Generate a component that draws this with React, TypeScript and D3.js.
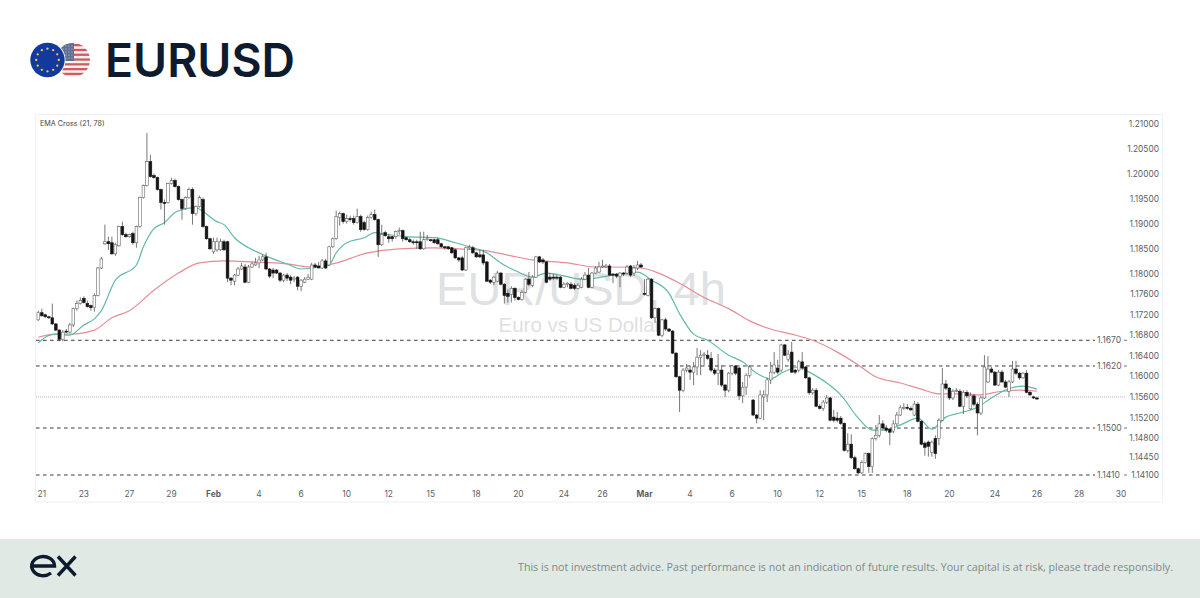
import * as d3 from "d3";

// OHLC, in 1/10000 of a price unit, one entry per 4h candle
const opens = [
  11710,11724,11720,11716,11714,11702,11690,11672,11688,11686,
  11700,11732,11742,11752,11742,11738,11734,11758,11812,11860,
  11864,11862,11840,11856,11894,11878,11874,11880,11862,11894,
  11952,11976,12024,11996,11992,11968,11942,11942,11980,11986,
  11974,11948,11930,11952,11968,11920,11934,11948,11894,11870,
  11844,11848,11848,11864,11864,11792,11786,11798,11810,11814,
  11784,11814,11818,11822,11828,11834,11810,11808,11808,11802,
  11788,11798,11794,11790,11794,11776,11784,11790,11790,11818,
  11816,11812,11826,11818,11854,11870,11912,11920,11904,11910,
  11910,11902,11914,11902,11888,11912,11918,11908,11858,11882,
  11874,11874,11874,11884,11886,11872,11868,11864,11864,11864,
  11850,11868,11868,11868,11868,11860,11854,11854,11852,11848,
  11832,11832,11808,11852,11852,11842,11838,11838,11824,11788,
  11784,11786,11802,11780,11762,11760,11772,11754,11750,11764,
  11790,11778,11794,11834,11828,11824,11794,11794,11794,11794,
  11774,11780,11780,11778,11772,11774,11790,11798,11774,11802,
  11804,11814,11814,11816,11800,11800,11796,11802,11802,11816,
  11802,11812,11818,11762,11758,11790,11714,11732,11680,11710,
  11692,11688,11645,11599,11573,11612,11612,11608,11618,11637,
  11641,11641,11635,11612,11606,11612,11583,11573,11606,11620,
  11616,11562,11579,11602,11554,11525,11519,11560,11564,11593,
  11608,11616,11612,11661,11633,11647,11612,11612,11628,11618,
  11597,11568,11573,11542,11538,11550,11558,11521,11519,11519,
  11509,11457,11469,11443,11422,11414,11434,11451,11426,11480,
  11486,11508,11500,11498,11494,11508,11525,11539,11540,11538,
  11525,11546,11513,11471,11473,11453,11480,11480,11515,11585,
  11577,11558,11571,11571,11542,11569,11537,11562,11546,11529,
  11558,11589,11614,11608,11583,11608,11589,11571,11589,11614,
  11606,11597,11606,11569,11560,11558,
];
const closes = [
  11724,11718,11716,11714,11702,11690,11672,11686,11686,11700,
  11732,11742,11748,11744,11736,11734,11758,11812,11830,11864,
  11860,11840,11858,11894,11878,11874,11878,11862,11894,11952,
  11976,12024,11994,11992,11968,11942,11940,11980,11986,11974,
  11948,11930,11952,11968,11920,11934,11952,11894,11870,11850,
  11864,11864,11864,11848,11792,11788,11798,11810,11816,11784,
  11814,11820,11822,11828,11834,11810,11796,11802,11802,11788,
  11798,11792,11788,11792,11776,11788,11790,11794,11818,11814,
  11812,11826,11812,11854,11870,11914,11920,11904,11910,11908,
  11902,11914,11888,11888,11912,11918,11908,11858,11878,11876,
  11870,11870,11884,11886,11870,11868,11864,11862,11862,11850,
  11868,11870,11866,11862,11860,11854,11852,11850,11842,11832,
  11828,11808,11852,11854,11842,11834,11834,11822,11786,11784,
  11794,11802,11780,11758,11756,11772,11754,11750,11764,11790,
  11780,11794,11834,11824,11824,11784,11790,11792,11792,11774,
  11780,11782,11772,11772,11778,11790,11798,11774,11802,11812,
  11814,11816,11816,11798,11798,11796,11802,11800,11814,11798,
  11812,11818,11814,11760,11790,11714,11732,11680,11710,11692,
  11688,11645,11599,11573,11612,11616,11608,11618,11637,11641,
  11643,11635,11612,11606,11612,11583,11573,11606,11620,11606,
  11562,11579,11602,11618,11525,11519,11564,11564,11593,11608,
  11622,11608,11661,11641,11643,11608,11608,11628,11616,11597,
  11568,11573,11542,11538,11550,11558,11515,11515,11515,11509,
  11457,11469,11443,11422,11414,11434,11451,11426,11480,11486,
  11508,11500,11496,11492,11508,11525,11539,11540,11538,11535,
  11546,11513,11469,11463,11465,11473,11451,11515,11585,11577,
  11558,11571,11573,11542,11569,11562,11562,11546,11529,11558,
  11618,11614,11608,11583,11608,11589,11579,11589,11614,11606,
  11597,11606,11569,11564,11558,11556,
];
const highs = [
  11728,11732,11722,11718,11742,11704,11692,11690,11692,11704,
  11734,11748,11754,11756,11748,11740,11762,11814,11834,11898,
  11874,11874,11862,11896,11904,11882,11880,11884,11896,11954,
  11978,12082,12038,12000,11994,11970,11948,11982,11992,11990,
  11976,11950,11954,11972,11972,11936,11956,11952,11896,11872,
  11872,11872,11870,11868,11866,11794,11800,11814,11822,11820,
  11818,11824,11832,11836,11838,11842,11812,11812,11810,11804,
  11800,11802,11798,11796,11796,11790,11794,11800,11822,11822,
  11824,11830,11830,11856,11872,11926,11924,11922,11918,11916,
  11916,11930,11918,11906,11916,11924,11928,11910,11898,11886,
  11880,11876,11886,11892,11888,11874,11872,11868,11868,11884,
  11884,11878,11870,11870,11872,11862,11856,11856,11854,11850,
  11834,11836,11854,11858,11856,11844,11848,11848,11826,11790,
  11796,11806,11804,11782,11770,11776,11774,11756,11768,11792,
  11804,11798,11836,11836,11832,11826,11802,11800,11798,11796,
  11784,11784,11784,11782,11782,11794,11804,11812,11804,11816,
  11824,11828,11820,11820,11802,11802,11804,11804,11818,11818,
  11818,11826,11822,11790,11792,11792,11734,11734,11712,11714,
  11694,11690,11647,11601,11616,11624,11620,11628,11655,11651,
  11647,11651,11647,11616,11643,11622,11585,11608,11622,11622,
  11618,11589,11606,11622,11556,11527,11573,11573,11597,11628,
  11647,11632,11663,11663,11651,11667,11614,11632,11647,11620,
  11599,11577,11577,11546,11554,11564,11560,11535,11531,11523,
  11511,11490,11488,11447,11424,11438,11453,11453,11482,11506,
  11525,11515,11506,11500,11515,11531,11544,11548,11546,11542,
  11552,11550,11515,11474,11476,11476,11486,11519,11616,11593,
  11579,11575,11577,11575,11573,11573,11569,11566,11550,11562,
  11641,11639,11618,11610,11612,11612,11593,11593,11630,11630,
  11608,11608,11612,11571,11562,11560,
];
const lows = [
  11708,11716,11714,11712,11700,11688,11668,11668,11684,11684,
  11696,11728,11740,11742,11734,11728,11726,11756,11810,11858,
  11848,11838,11836,11854,11876,11872,11872,11858,11852,11892,
  11950,11974,11992,11990,11966,11928,11898,11940,11978,11972,
  11946,11908,11928,11950,11898,11916,11932,11892,11868,11848,
  11840,11844,11846,11846,11784,11778,11778,11796,11808,11782,
  11782,11812,11816,11812,11826,11808,11792,11792,11800,11784,
  11784,11786,11780,11784,11768,11766,11782,11788,11788,11812,
  11812,11810,11810,11816,11852,11868,11896,11900,11900,11904,
  11898,11900,11884,11886,11886,11910,11906,11834,11856,11874,
  11862,11864,11870,11878,11864,11866,11862,11858,11850,11848,
  11848,11866,11864,11860,11858,11852,11848,11848,11840,11830,
  11824,11806,11806,11848,11840,11832,11832,11818,11784,11780,
  11778,11784,11778,11742,11744,11744,11748,11748,11748,11762,
  11776,11774,11792,11822,11820,11782,11786,11788,11788,11772,
  11772,11774,11770,11768,11770,11772,11788,11772,11772,11800,
  11802,11812,11812,11796,11782,11792,11774,11796,11798,11794,
  11796,11808,11812,11758,11756,11712,11704,11678,11676,11688,
  11686,11643,11597,11531,11569,11608,11593,11583,11602,11602,
  11622,11632,11608,11602,11583,11579,11560,11569,11602,11602,
  11554,11548,11564,11597,11523,11509,11517,11515,11550,11585,
  11604,11604,11608,11639,11628,11606,11604,11608,11612,11595,
  11564,11564,11540,11536,11533,11546,11513,11511,11511,11506,
  11455,11453,11441,11420,11412,11412,11432,11414,11414,11476,
  11482,11496,11492,11467,11490,11504,11523,11535,11535,11533,
  11523,11511,11467,11447,11445,11445,11441,11467,11513,11573,
  11554,11554,11569,11540,11527,11558,11535,11542,11486,11525,
  11556,11587,11606,11581,11581,11587,11577,11560,11587,11602,
  11593,11595,11567,11562,11556,11554,
];

// EMA lines, sampled by eye as [candle index, price in 1/10000]
const emaFast: [number, number][] = [
  [0,11665],[2.5,11678],[5,11682],[9,11680],[13,11700],[16,11712],[18,11728],[22,11788],
  [28,11818],[30,11854],[33,11890],[36,11902],[39,11922],[41,11928],[45,11932],[47,11924],
  [51,11904],[53,11898],[56,11872],[60,11852],[63,11842],[67,11830],[71,11820],[75,11810],
  [78,11812],[83,11818],[85,11842],[88,11862],[93,11872],[96,11882],[100,11878],[105,11874],
  [113,11872],[119,11862],[123,11854],[128,11842],[132,11822],[137,11804],[141,11794],
  [145,11802],[149,11798],[155,11790],[159,11792],[164,11798],[171,11804],[175,11788],
  [180,11762],[183,11722],[187,11682],[191,11670],[197,11641],[201,11628],[205,11606],
  [209,11595],[212,11606],[217,11618],[220,11608],[225,11587],[229,11564],[234,11519],
  [238,11496],[242,11496],[246,11506],[251,11519],[255,11498],[259,11521],[263,11529],
  [268,11540],[272,11558],[275,11570],[281,11581],[285,11575],
];
const emaSlow: [number, number][] = [
  [0,11676],[5,11682],[9,11682],[16,11690],[21,11714],[26,11728],[33,11768],[40,11802],
  [46,11822],[53,11826],[61,11824],[71,11820],[78,11814],[84,11820],[94,11842],[103,11850],
  [113,11852],[120,11850],[128,11846],[135,11836],[141,11828],[151,11822],[159,11814],
  [164,11814],[172,11812],[177,11802],[183,11782],[190,11754],[197,11732],[203,11708],
  [209,11692],[215,11682],[221,11670],[228,11647],[234,11622],[239,11599],[246,11587],
  [252,11575],[257,11566],[263,11566],[269,11564],[274,11570],[280,11573],[285,11571],
];

const priceTicks = [1.21,1.205,1.2,1.195,1.19,1.185,1.18,1.176,1.172,1.168,1.164,1.16,1.156,1.152,1.148,1.1445,1.141];
const levels = [1.167,1.162,1.15,1.141];
const lastPrice = 1.156;

const dateLabels = ["21","23","27","29","Feb","4","6","10","12","15","18","20","24","26","Mar","4","6","10","12","15","18","20","24","26","28","30"];
const dateIndex = [1,13,26,38,50,63,75,88,100,112,125,137,150,161,173,186,198,211,223,235,248,260,273,285,297,309];

const x = d3.scaleLinear().domain([0, 285]).range([38.3, 1037]);
const y = d3.scaleLog().domain([1.21, 1.141]).range([124, 475]);
const py = (pips: number) => y(pips / 10000);

const emaLine = d3
  .line<[number, number]>()
  .x((d) => x(d[0]))
  .y((d) => py(d[1]))
  .curve(d3.curveMonotoneX);

const INK = "#0e1a2e";
const LABEL = "#5a5f66";
const starAngles = d3.range(12).map((i) => (i * Math.PI) / 6);
const stripes = d3.range(7).map((i) => 44 + i * 4.8);
const cantonDots = d3.range(5).flatMap((r) => d3.range(6).map((c) => [57 + c * 3, 46 + r * 3]));

export default function App() {
  const bodyW = 2.7;
  return (
    <svg
      width={1200}
      height={598}
      style={{ position: "absolute", left: 0, top: 0, display: "block", background: "#fff" }}
    >
      <defs>
        <clipPath id="us">
          <circle cx={73} cy={60} r={17} />
        </clipPath>
      </defs>

      {/* header */}
      <g clipPath="url(#us)">
        <rect x={54} y={42} width={38} height={36} fill="#f6f3f0" />
        {stripes.map((s) => (
          <rect key={s} x={54} y={s} width={38} height={2.3} fill="#cf5a62" />
        ))}
        <rect x={54} y={42} width={20} height={19} fill="#5f6c94" />
        {cantonDots.map(([cx, cy]) => (
          <circle key={`${cx}-${cy}`} cx={cx} cy={cy} r={0.55} fill="#d7dbe8" />
        ))}
      </g>
      <circle cx={47.5} cy={60} r={18} fill="#fff" />
      <circle cx={47.5} cy={60} r={17.2} fill="#12399b" />
      {starAngles.map((a) => (
        <circle key={a} cx={47.5 + 11.3 * Math.cos(a)} cy={60 + 11.3 * Math.sin(a)} r={1.15} fill="#f2cf4a" />
      ))}
      <text x={105} y={76.5} fontFamily="Inter" fontSize={46.5} fontWeight={600} fill={INK} textLength={190} lengthAdjust="spacingAndGlyphs">
        EURUSD
      </text>

      {/* chart frame */}
      <rect x={35.5} y={114.5} width={1127} height={387.5} fill="none" stroke="#f0f0f0" />
      <text x={40} y={125.5} fontFamily="Inter" fontSize={7.2} fill="#444">
        EMA Cross (21, 78)
      </text>

      {/* watermark */}
      <text x={581} y={305} textAnchor="middle" fontFamily="Liberation Sans" fontSize={47} fill="#e0e1e3">
        EUR/USD, 4h
      </text>
      <text x={580} y={332} textAnchor="middle" fontFamily="Liberation Sans" fontSize={20.5} fill="#dfe0e2">
        Euro vs US Dollar
      </text>

      {/* levels */}
      {levels.map((l) => (
        <g key={l}>
          <line x1={36} x2={1095} y1={y(l)} y2={y(l)} stroke="#3c3c3c" strokeWidth={1} strokeDasharray="3.6 3.4" />
          <text x={1097} y={y(l) + 3} fontFamily="Inter" fontSize={8.6} fill={LABEL}>
            {l.toFixed(4)}
          </text>
          <line x1={1124} x2={1127} y1={y(l)} y2={y(l)} stroke="#555" strokeWidth={0.8} />
        </g>
      ))}
      <line x1={36} x2={1125} y1={y(lastPrice)} y2={y(lastPrice)} stroke="#b8a4c9" strokeWidth={0.9} strokeDasharray="1 1" />

      {/* EMA lines */}
      <path d={emaLine(emaSlow) ?? ""} fill="none" stroke="#e58c96" strokeWidth={1.2} />
      <path d={emaLine(emaFast) ?? ""} fill="none" stroke="#62b9a8" strokeWidth={1.2} />

      {/* candles */}
      {closes.map((c, i) => {
        const o = opens[i];
        const up = c >= o;
        const top = py(Math.max(o, c));
        const bottom = py(Math.min(o, c));
        return (
          <g key={i}>
            <line x1={x(i)} x2={x(i)} y1={py(highs[i])} y2={py(lows[i])} stroke="#555" strokeWidth={0.8} />
            <rect
              x={x(i) - bodyW / 2}
              y={top}
              width={bodyW}
              height={Math.max(bottom - top, 1)}
              fill={up ? "#fff" : "#141414"}
              stroke={up ? "#666" : "#141414"}
              strokeWidth={0.6}
            />
          </g>
        );
      })}

      {/* axes */}
      {priceTicks.map((p) => (
        <text key={p} x={1159} y={y(p) + 3} textAnchor="end" fontFamily="Inter" fontSize={8.4} fill={LABEL}>
          {p.toFixed(5)}
        </text>
      ))}
      {dateLabels.map((d, i) => (
        <text
          key={i}
          x={x(dateIndex[i])}
          y={497}
          textAnchor="middle"
          fontFamily="Inter"
          fontSize={8.4}
          fontWeight={d === "Feb" || d === "Mar" ? 700 : 400}
          fill={LABEL}
        >
          {d}
        </text>
      ))}

      {/* footer */}
      <rect x={0} y={539} width={1200} height={59} fill="#e1e9e4" />
      <path d="M32 566 H54.5 A11.4 9.6 0 1 0 51 573" fill="none" stroke={INK} strokeWidth={3.4} />
      <path d="M58 556.5 L75.5 575.5 M75.5 556.5 L58 575.5" fill="none" stroke={INK} strokeWidth={3.4} />
      <text x={518} y={571} fontFamily="Open Sans" fontSize={10.7} fill="#7b8a8c" textLength={655} lengthAdjust="spacing">
        This is not investment advice. Past performance is not an indication of future results. Your capital is at risk, please trade responsibly.
      </text>
    </svg>
  );
}
